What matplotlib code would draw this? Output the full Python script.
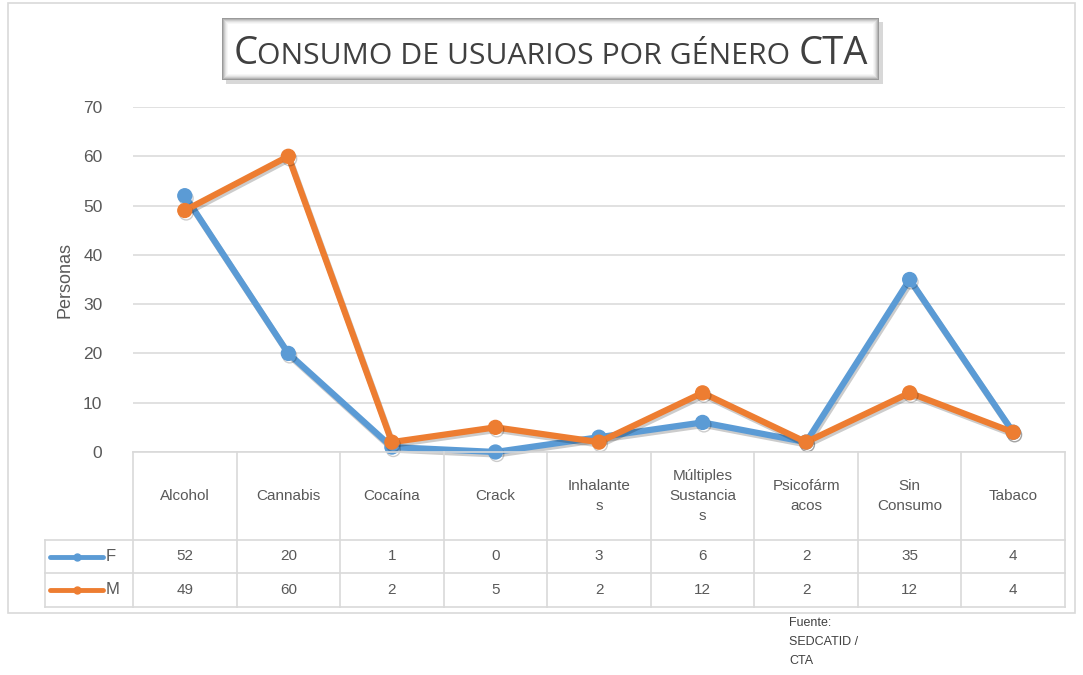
import matplotlib
matplotlib.use("Agg")
import matplotlib.pyplot as plt
from matplotlib.transforms import Affine2D
from matplotlib.patches import Rectangle
import matplotlib.patheffects as pe

categories = ["Alcohol", "Cannabis", "Cocaína", "Crack", "Inhalante\ns",
              "Múltiples\nSustancia\ns", "Psicofárm\nacos", "Sin\nConsumo", "Tabaco"]
f_values = [52, 20, 1, 0, 3, 6, 2, 35, 4]
m_values = [49, 60, 2, 5, 2, 12, 2, 12, 4]
series_names = ["F", "M"]
yticks = [0, 10, 20, 30, 40, 50, 60, 70]
title_text = "Consumo de usuarios por género CTA"
ylabel = "Personas"
source = "Fuente:\nSEDCATID /\nCTA"

W, H = 1083, 675
BLUE = "#5B9BD5"
ORANGE = "#ED7D31"
TXT = "#595959"
GRID = "#D9D9D9"
FONT = "Liberation Sans"

fig = plt.figure(figsize=(W / 100, H / 100), dpi=100)
px = Affine2D().scale(1 / W, -1 / H).translate(0, 1) + fig.transFigure

# outer chart frame
fig.patches.append(Rectangle((8, 3), 1067, 610, transform=px, fill=False,
                             edgecolor=GRID, linewidth=1.2))

# plot area
L, R, T, B = 133, 1065, 107, 452
ax = fig.add_axes([L / W, 1 - B / H, (R - L) / W, (B - T) / H])
n = len(categories)
xs = [i + 0.5 for i in range(n)]
ax.set_xlim(0, n)
ax.set_ylim(0, 70)
ax.set_yticks(yticks)
ax.set_yticklabels([str(v) for v in yticks], fontsize=12.5, color=TXT, family=FONT)
ax.tick_params(axis="y", length=0, pad=22)
ax.set_xticks([])
ax.grid(axis="y", color=GRID, linewidth=1.1)
ax.set_axisbelow(True)
for s in ax.spines.values():
    s.set_visible(False)

shadow = [pe.SimpleLineShadow(offset=(1.0, -1.8), alpha=0.2, shadow_color="black"),
          pe.Normal()]
ax.plot(xs, f_values, color=BLUE, linewidth=4.5, marker="o", markersize=10,
        solid_joinstyle="round", path_effects=shadow, clip_on=False, zorder=3)
ax.plot(xs, m_values, color=ORANGE, linewidth=4.5, marker="o", markersize=10,
        solid_joinstyle="round", path_effects=shadow, clip_on=False, zorder=4)

fig.text(65 / W, 1 - 280 / H, ylabel, rotation=90, ha="center", va="center",
         fontsize=13, color=TXT, family=FONT)

# data table
cw = (R - L) / n
rows_y = [452, 540, 573, 607]
lc = dict(color=GRID, linewidth=1.2, transform=px)
fig.add_artist(plt.Line2D([L, R], [rows_y[0], rows_y[0]], **lc))
for y in rows_y[1:]:
    fig.add_artist(plt.Line2D([45, R], [y, y], **lc))
for i in range(n + 1):
    x = L + i * cw
    fig.add_artist(plt.Line2D([x, x], [rows_y[0], rows_y[3]], **lc))
fig.add_artist(plt.Line2D([45, 45], [rows_y[1], rows_y[3]], **lc))

for i, c in enumerate(categories):
    fig.text((L + (i + 0.5) * cw) / W, 1 - (rows_y[0] + rows_y[1]) / 2 / H, c,
             ha="center", va="center", fontsize=11, color=TXT, family=FONT,
             linespacing=1.55)
for r, (vals, col, name) in enumerate([(f_values, BLUE, series_names[0]),
                                       (m_values, ORANGE, series_names[1])]):
    yc = (rows_y[r + 1] + rows_y[r + 2]) / 2
    for i, v in enumerate(vals):
        fig.text((L + (i + 0.5) * cw) / W, 1 - yc / H, str(v), ha="center",
                 va="center", fontsize=11, color=TXT, family=FONT)
    fig.add_artist(plt.Line2D([50, 103], [yc, yc], color=col, linewidth=3.5,
                              transform=px, solid_capstyle="round"))
    fig.add_artist(plt.Line2D([77], [yc], color=col, marker="o", markersize=5,
                              transform=px))
    fig.text(106 / W, 1 - yc / H, name, ha="left", va="center", fontsize=12,
             color=TXT, family=FONT)

# title box with bevel
bx0, by0, bx1, by1 = 222, 18, 879, 80
fig.patches.append(Rectangle((bx0 + 4, by0 + 4), bx1 - bx0, by1 - by0, transform=px,
                             facecolor="#BFBFBF", edgecolor="none", alpha=0.6))
shades = ["#9A9A9A", "#B5B5B5", "#CDCDCD", "#E0E0E0", "#EEEEEE", "#F7F7F7"]
for k, sh in enumerate(shades):
    fig.patches.append(Rectangle((bx0 + k, by0 + k), bx1 - bx0 - 2 * k,
                                 by1 - by0 - 2 * k, transform=px,
                                 facecolor=sh, edgecolor="none"))
fig.patches.append(Rectangle((bx0 + 6, by0 + 6), bx1 - bx0 - 12, by1 - by0 - 12,
                             transform=px, facecolor="white", edgecolor="none"))

# small caps title: uppercase typed letters big, lowercase shown as small capitals
renderer = fig.canvas.get_renderer()
big, small = 26, 20.5
pieces = []
cur, cur_big = "", None
for ch in title_text:
    isbig = ch.isupper()
    if ch == " ":
        isbig = cur_big if cur_big is not None else False
    if cur_big is None or isbig == cur_big:
        cur += ch
        cur_big = isbig
    else:
        pieces.append((cur, cur_big))
        cur, cur_big = ch, isbig
pieces.append((cur, cur_big))

target_w = 634
tcol = "#404040"
texts = []
for scale_pass in range(2):
    for t, _ in texts:
        t.remove()
    texts = []
    x = 0.0
    for s, isbig in pieces:
        fs = big if isbig else small
        body = s.rstrip(" ")
        t = fig.text(0, 1 - 64 / H, body.upper(), fontsize=fs, color=tcol,
                     family="Open Sans", ha="left", va="baseline")
        ext = t.get_window_extent(renderer)
        texts.append((t, x))
        x += ext.width + (fs * 0.26 * 100 / 72) * (len(s) - len(body))
    total = x
    k = target_w / total
    big *= k
    small *= k
start = (bx0 + bx1) / 2 - total / 2
for t, off in texts:
    t.set_x((start + off) / W)

fig.text(789 / W, 1 - 617 / H, source, ha="left", va="top", fontsize=9,
         color="#404040", family=FONT, linespacing=1.75)

fig.savefig("out.png", dpi=100)
